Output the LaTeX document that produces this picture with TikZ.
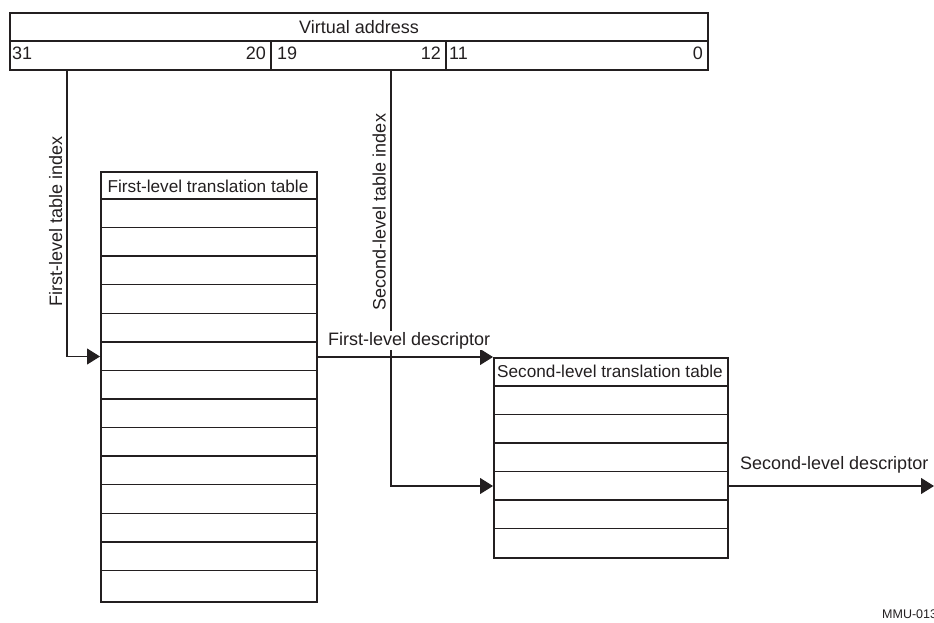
\documentclass[tikz,border=0pt]{standalone}
\usepackage{fontspec}
\setmainfont{Liberation Sans}
\usetikzlibrary{arrows.meta}
\definecolor{ink}{RGB}{35,31,32}
\begin{document}
\begin{tikzpicture}[x=1pt,y=-1pt,
  outer/.style={draw=ink, line width=2.2pt, inner sep=0pt, anchor=north west},
  inline/.style={draw=ink, line width=1.4pt},
  conn/.style={draw=ink, line width=1.1pt},
  arr/.style={conn, -{Triangle[length=13pt,width=16pt]}},
  lbl/.style={inner sep=0pt, text=ink, font=\fontsize{18}{21}\selectfont},
  hdr/.style={inner sep=0pt, text=ink, anchor=base, font=\fontsize{17.2}{20}\selectfont},
  ]
\useasboundingbox (0,0) rectangle (934,622);

% virtual address box
\node[outer, minimum width=698pt, minimum height=57pt] (va) at (9,12) {};
\draw[inline] (va.west |- 0,41) -- (va.east |- 0,41);
\draw[inline] (271,41) -- (271,69);
\draw[inline] (446,41) -- (446,69);
\node[lbl, anchor=base] (vat) at (359,33) {Virtual address};
\node[lbl, anchor=base west] (b31) at (12,59) {31};
\node[lbl, anchor=base east] (b20) at (266,59) {20};
\node[lbl, anchor=base west] (b19) at (277,59) {19};
\node[lbl, anchor=base east] (b12) at (441,59) {12};
\node[lbl, anchor=base west] (b11) at (449,59) {11};
\node[lbl, anchor=base east] (b0) at (703,59) {0};

% first-level table
\node[outer, minimum width=216pt, minimum height=430pt] (t1) at (100,171) {};
\foreach \k in {0,...,13} {
  \draw[inline] (100,{199+\k*28.571}) -- (316,{199+\k*28.571});
}
\node[hdr] (t1h) at (208,192) {First-level translation table};

% second-level table
\node[outer, minimum width=234pt, minimum height=200pt] (t2) at (493,357) {};
\foreach \k in {0,...,5} {
  \draw[inline] (493,{386+\k*28.5}) -- (727,{386+\k*28.5});
}
\node[hdr] (t2h) at (610,377) {Second-level translation table};

% connectors
\coordinate (i1) at (67,69);
\coordinate (e1) at (100,356.5);
\draw[arr] (i1) |- (e1);

\draw[arr] (t1.east |- t2.north) -- (t2.north west);

\coordinate (i2) at (391,69);
\coordinate (e2) at (493,486);
\draw[arr] (i2) |- (e2);

\coordinate (o2) at (727,486);
\coordinate (out) at (934,486);
\draw[arr] (o2) -- (out);

% labels
\node[lbl, rotate=90, anchor=base] (l1) at (62,221) {First-level table index};
\node[lbl, rotate=90, anchor=base] (l2) at (385.5,212) {Second-level table index};
\node[lbl, anchor=base west, fill=white, inner sep=1pt] (fld) at (327,345) {First-level descriptor};
\node[lbl, anchor=base west] (sld) at (740,469) {Second-level descriptor};
\node[inner sep=0pt, text=ink, anchor=base west, font=\fontsize{12.5}{14}\selectfont] (mmu) at (882,618) {MMU-013};
\end{tikzpicture}
\end{document}
